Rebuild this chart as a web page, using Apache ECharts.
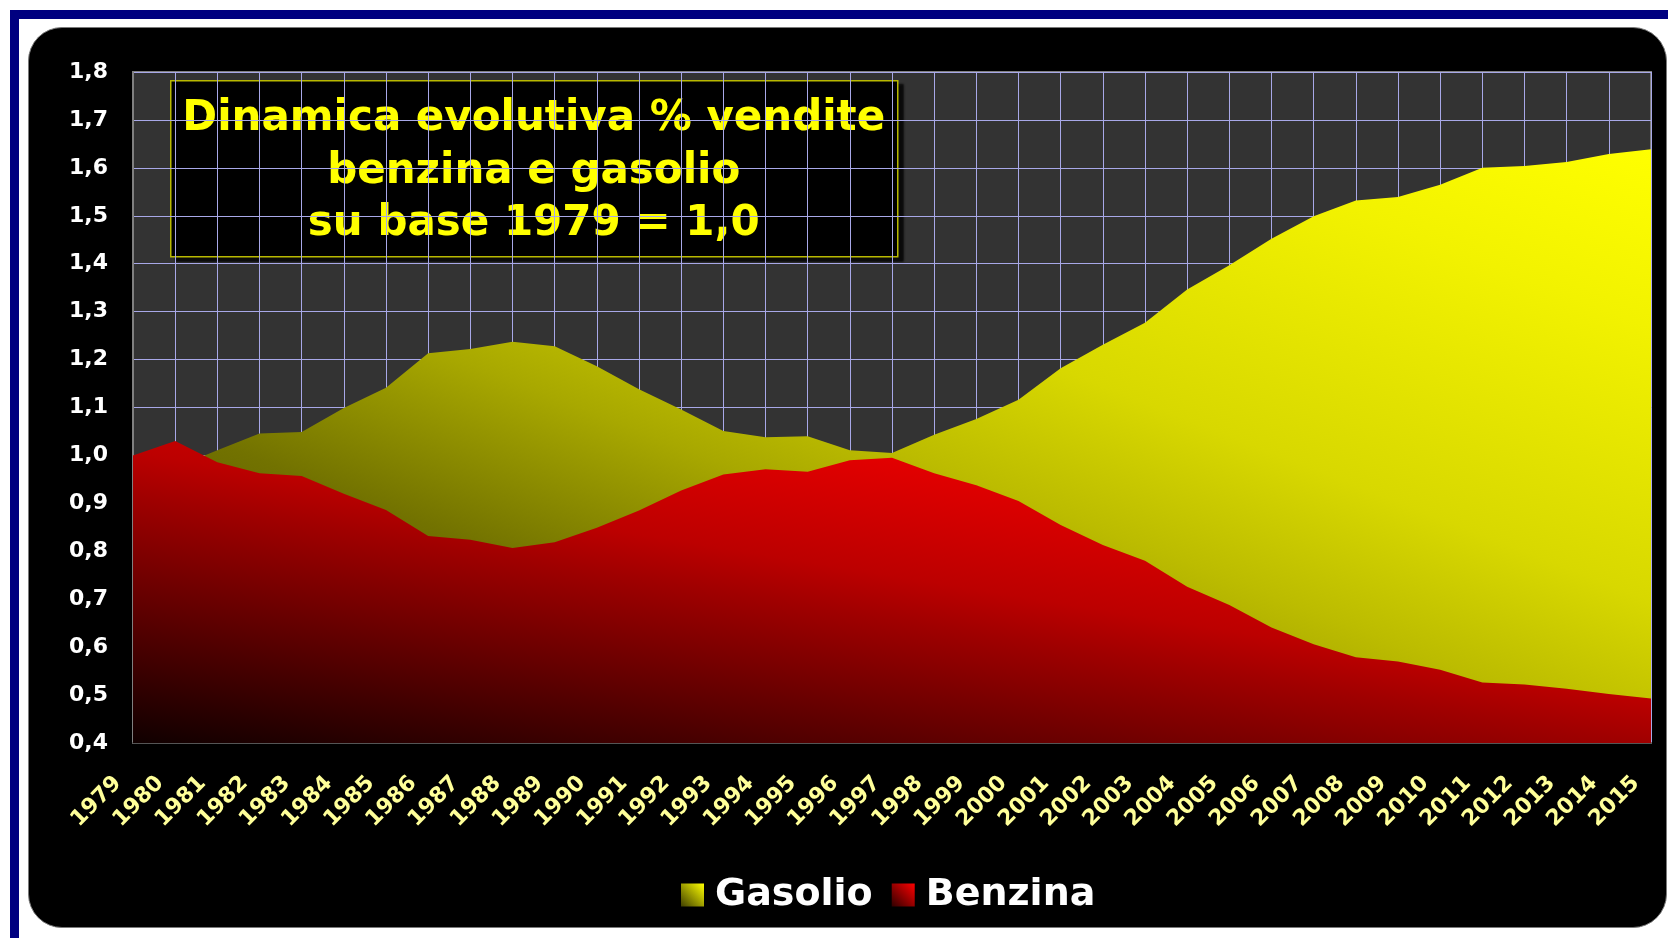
<!DOCTYPE html>
<html><head><meta charset="utf-8">
<script src="https://cdn.jsdelivr.net/npm/echarts@6/dist/echarts.min.js"></script>
<style>
html,body{margin:0;padding:0;background:#fff;width:1668px;height:938px;overflow:hidden;}
#blueTop{position:absolute;left:10px;top:10px;width:1658px;height:9px;background:#000080;}
#blueLeft{position:absolute;left:10px;top:10px;width:9px;height:928px;background:#000080;}
#panel{position:absolute;left:28px;top:27px;width:1639px;height:901px;background:#000;border-radius:34px;border:1px solid #7a7a7a;box-sizing:border-box;}
#chart{position:absolute;left:0;top:0;width:1668px;height:938px;}
</style></head>
<body>
<div id="blueTop"></div><div id="blueLeft"></div><div id="panel"></div>
<div id="chart"></div>
<script>
const years = ['1979','1980','1981','1982','1983','1984','1985','1986','1987','1988','1989','1990','1991','1992','1993','1994','1995','1996','1997','1998','1999','2000','2001','2002','2003','2004','2005','2006','2007','2008','2009','2010','2011','2012','2013','2014','2015'];
const gasolio = [1.000,0.975,1.011,1.046,1.049,1.099,1.141,1.213,1.222,1.237,1.228,1.186,1.138,1.096,1.051,1.038,1.040,1.011,1.005,1.043,1.076,1.116,1.182,1.231,1.277,1.346,1.397,1.452,1.499,1.532,1.539,1.565,1.600,1.604,1.612,1.629,1.639];
const benzina = [1.000,1.030,0.986,0.963,0.957,0.920,0.886,0.832,0.824,0.807,0.819,0.849,0.885,0.927,0.960,0.971,0.966,0.990,0.995,0.963,0.938,0.905,0.855,0.813,0.780,0.726,0.688,0.641,0.606,0.579,0.570,0.553,0.526,0.522,0.513,0.502,0.493];
const yMin = 0.4, yMax = 1.8, yStep = 0.1;
const titleLines = ['Dinamica evolutiva % vendite','benzina e gasolio','su base 1979 = 1,0'];
const seriesNames = ['Gasolio','Benzina'];

const FONT = 'DejaVu Sans';
const gasStops = [[0,'#3a3a00'],[0.28,'#727200'],[0.43,'#a8a800'],[0.5,'#bcbc00'],[0.62,'#d8d800'],[0.85,'#f2f200'],[1,'#ffff00']];
const benStops = [[0,'#100000'],[0.2,'#500000'],[0.45,'#a00000'],[0.53,'#bc0000'],[0.75,'#e40000'],[1,'#ff0000']];
function toStops(s){ return s.map(a=>({offset:a[0],color:a[1]})); }
function grad(stops){
  return new echarts.graphic.LinearGradient(0,1,1,0, toStops(stops));
}

const chart = echarts.init(document.getElementById('chart'), null, {renderer:'canvas'});
const option = {
  backgroundColor:'transparent',
  animation:false,
  grid:{left:133,right:17,top:72,bottom:195,show:true,backgroundColor:'#333333',borderColor:'#808080',borderWidth:2},
  xAxis:{
    type:'category', data:years, boundaryGap:false,
    axisLine:{show:true,lineStyle:{color:'#555555',width:2}},
    axisTick:{show:false},
    splitLine:{show:true,interval:0,lineStyle:{color:'#a8a8e8',width:1}},
    axisLabel:{interval:0,rotate:45,color:'#ffff99',fontWeight:'bold',fontSize:22,fontFamily:FONT,margin:22,padding:[0,21,0,0]}
  },
  yAxis:{
    type:'value', min:yMin, max:yMax, interval:yStep,
    axisLine:{show:true,lineStyle:{color:'#808080',width:2}},
    axisTick:{show:false},
    splitLine:{show:true,lineStyle:{color:'#a8a8e8',width:1}},
    axisLabel:{color:'#ffffff',fontWeight:'bold',fontSize:22,fontFamily:FONT,margin:25,
      formatter:v=>v.toFixed(1).replace('.',',')}
  },
  legend:{
    left:676, top:871, itemWidth:23, itemHeight:23, itemGap:19, icon:'rect',
    textStyle:{color:'#ffffff',fontWeight:'bold',fontSize:38,fontFamily:FONT,padding:[0,0,0,6]},
    data:[
      {name:seriesNames[0],itemStyle:{color:grad([[0,'#404000'],[1,'#ffff00']])}},
      {name:seriesNames[1],itemStyle:{color:grad([[0,'#300000'],[1,'#ff0000']])}}
    ]
  },
  series:[
    {name:seriesNames[0],type:'line',data:gasolio,symbol:'none',lineStyle:{width:0},
      itemStyle:{color:'#ffff00'},areaStyle:{origin:'start',color:'#c0c000',opacity:1},z:2},
    {name:seriesNames[1],type:'line',data:benzina,symbol:'none',lineStyle:{width:0},
      itemStyle:{color:'#ff0000'},areaStyle:{origin:'start',color:'#c00000',opacity:1},z:3}
  ],
  graphic:[{
    type:'group', left:170, top:80, z:100,
    children:[
      {type:'rect',shape:{x:0,y:0,width:727,height:176},
        style:{fill:'#000000',stroke:'#b8b800',lineWidth:1.5,shadowColor:'rgba(0,0,0,0.8)',shadowOffsetX:5,shadowOffsetY:4,shadowBlur:2}},
      {type:'text',x:363,y:91,
        style:{text:titleLines.join('\n'),fill:'#ffff00',font:'bold 42px "DejaVu Sans"',align:'center',verticalAlign:'middle',lineHeight:52.5}}
    ]
  }]
};
chart.setOption(option);

// Excel-like "diagonal" gradient over the area's bounding box, computed from the axes' scales
function areaGradient(values, r, stops){
  const x0 = chart.convertToPixel({xAxisIndex:0}, 0);
  const x1 = chart.convertToPixel({xAxisIndex:0}, values.length-1);
  const yBot = chart.convertToPixel({yAxisIndex:0}, yMin);
  const yTop = chart.convertToPixel({yAxisIndex:0}, Math.max.apply(null, values));
  const W = x1 - x0, H = yBot - yTop;
  const gx = 1/((1+r)*W), gy = -r/((1+r)*H);
  const g2 = gx*gx + gy*gy;
  return new echarts.graphic.LinearGradient(x0, yBot, x0 + gx/g2, yBot + gy/g2, toStops(stops), true);
}
chart.setOption({series:[
  {areaStyle:{color:areaGradient(gasolio, 1.0, gasStops)}},
  {areaStyle:{color:areaGradient(benzina, 1.22, benStops)}}
]});
</script>
</body></html>
